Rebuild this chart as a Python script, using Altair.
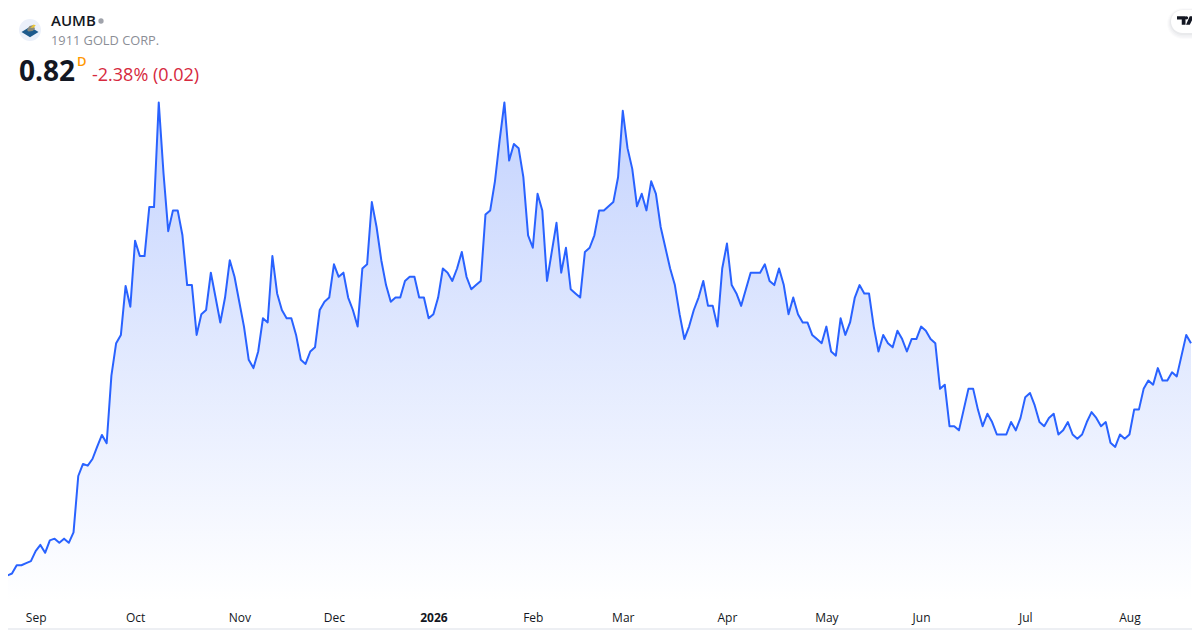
import altair as alt
import pandas as pd

prices = [
0.255,0.26,0.265,0.285,0.285,0.29,0.295,0.319,0.334,0.315,0.345,0.349,0.339,0.349,0.339,0.364,0.50,0.529,0.525,0.541,0.571,0.599,0.579,
0.742,0.82,0.84,0.958,0.908,1.067,1.03,1.03,1.148,1.148,1.40,1.23,1.09,1.14,1.14,1.08,0.96,0.96,0.84,0.89,0.90,0.99,0.93,0.87,0.93,1.02,0.98,0.92,0.86,0.78,0.76,0.80,0.88,0.87,1.03,0.94,0.90,0.88,0.88,0.84,0.78,
0.77,0.80,0.81,0.90,0.92,0.93,1.01,0.98,0.99,0.93,0.90,0.86,1.00,1.01,1.16,1.10,1.02,0.96,0.92,0.93,0.93,0.97,0.98,0.98,0.93,0.93,0.88,0.89,0.93,1.00,0.99,0.97,1.00,1.04,0.98,0.95,0.96,0.97,1.13,1.14,1.21,1.31,1.40,1.26,1.30,1.29,1.22,1.08,1.05,1.18,1.14,0.97,1.04,1.11,0.99,1.05,0.95,0.94,0.93,1.04,1.05,1.08,1.14,
1.14,1.15,1.16,1.22,1.38,1.29,1.24,1.15,1.18,1.14,1.21,1.18,1.10,1.05,1.00,0.96,0.89,0.83,0.86,0.90,0.93,0.97,0.91,0.91,0.86,1.00,1.06,0.96,0.94,0.91,0.95,0.99,0.99,0.99,1.01,0.97,0.96,1.00,0.96,0.89,0.93,0.89,0.87,0.87,0.84,0.83,0.82,0.86,0.80,0.79,0.88,0.84,0.87,0.93,0.96,0.94,0.94,0.86,0.80,0.84,0.82,0.81,0.85,
0.83,0.80,0.83,0.83,0.86,0.85,0.83,0.82,0.71,0.72,0.62,0.62,0.61,0.66,0.71,0.71,0.66,0.62,0.65,0.63,0.60,0.60,0.60,0.63,0.61,0.64,0.69,0.70,0.67,0.63,0.62,0.64,0.65,0.60,0.61,0.63,0.60,0.59,0.60,0.63,0.654,0.64,0.62,0.63,0.58,0.57,0.60,0.59,0.60,0.66,0.66,0.71,0.73,0.72,0.76,0.73,0.73,0.75,0.74,0.79,0.84,0.82,
]
tick_index = [7, 28, 50, 70, 91, 112, 131, 153, 174, 194, 216, 238]
tick_labels = ["Sep", "Oct", "Nov", "Dec", "2026", "Feb", "Mar", "Apr", "May", "Jun", "Jul", "Aug"]

df = pd.DataFrame({"i": list(range(len(prices))), "p": prices, "base": [0.20] * len(prices)})

FONT = "Open Sans"
xs = alt.Scale(domain=[-2.5 / 4.735, 1197.5 / 4.735], nice=False, zero=False)
ys = alt.Scale(domain=[0.82 - 286.8 / 415, 0.82 + 343.2 / 415], nice=False, zero=False)

label_expr = "{" + ",".join(f"'{i}':'{l}'" for i, l in zip(tick_index, tick_labels)) + "}[''+datum.value]"
xax = alt.Axis(values=tick_index, labelExpr=label_expr, title=None, domain=False, ticks=False, grid=False,
               labelFont=FONT, labelFontSize=12, labelColor="#131722", labelPadding=0, labelOverlap=False,
               labelFlush=False, labelFontWeight=alt.expr("datum.value == 91 ? 700 : 400"),
               orient="bottom", offset=-18)

base = alt.Chart(df)
area = base.mark_area(
    line=False,
    color=alt.Gradient(gradient="linear", x1=0, x2=0, y1=0, y2=1,
                       stops=[alt.GradientStop(offset=0, color="#c4d3fe"),
                              alt.GradientStop(offset=1, color="#ffffff")]),
).encode(x=alt.X("i:Q", scale=xs, axis=xax), y=alt.Y("p:Q", scale=ys, axis=None), y2="base:Q")
line = base.mark_line(color="#2962ff", strokeWidth=2, strokeJoin="round").encode(
    x=alt.X("i:Q", scale=xs), y=alt.Y("p:Q", scale=ys))

one = pd.DataFrame({"a": [0]})
def txt(s, x, y, size, color, weight=400):
    return alt.Chart(one).mark_text(text=s, align="left", baseline="alphabetic", font=FONT, fontSize=size,
                                    color=color, fontWeight=weight).encode(x=alt.value(x), y=alt.value(y))

def pt(shape, x, y, size, fill):
    return alt.Chart(one).mark_point(shape=shape, filled=True, fill=fill, size=size, opacity=1, strokeWidth=0).encode(
        x=alt.value(x), y=alt.value(y))

frame = alt.Chart(one).mark_rect(fill="transparent", stroke="#e8eaef", strokeWidth=1.5, cornerRadius=6).encode(
    x=alt.value(1), x2=alt.value(1199), y=alt.value(1), y2=alt.value(629))

header = [
    pt("circle", 30, 30, 480, "#ebf0fa"),
    pt("M-1,0 L0,-0.62 L1,0 L0,0.62 Z", 30, 32, 289, "#1d5a8c"),
    pt("M-0.8,0.2 L-0.3,-0.6 L0.5,-0.8 L0.8,0 L0.3,0.4 L-0.5,0.5 Z", 31, 29, 100, "#8a8a7c"),
    pt("M-1,0.4 L0.2,-0.9 L1,-0.6 L0.2,0.3 Z", 33, 27, 30, "#e8c43a"),
    txt("AUMB", 51, 26, 15, "#131722", 600),
    pt("circle", 101, 21, 28, "#a0a3ab"),
    txt("1911 GOLD CORP.", 51, 45, 12.8, "#8b8e96"),
    txt("0.82", 19, 81, 28, "#131722", 700),
    txt("D", 77, 66, 13, "#ff9800", 600),
    txt("-2.38% (0.02)", 92, 81, 18, "#d6293e"),
]

def pill_rect(grow, dy, fill, opacity):
    return alt.Chart(one).mark_rect(fill=fill, cornerRadius=12 + grow, opacity=opacity).encode(
        x=alt.value(1171 - grow), x2=alt.value(1215), y=alt.value(10 - grow + dy), y2=alt.value(33 + grow + dy))

pill = [pill_rect(4, 2, "#131722", 0.015), pill_rect(3, 2, "#131722", 0.02),
        pill_rect(2, 1.5, "#131722", 0.025), pill_rect(1, 1, "#131722", 0.03),
        pill_rect(0, 0, "#ffffff", 1)]
tv = pt("M-1,-0.5 L0,-0.5 L0,0.5 L-0.44,0.5 L-0.44,-0.12 L-1,-0.12 Z "
        "M0.12,-0.5 A0.16,0.16 0 1 1 0.12,-0.12 A0.16,0.16 0 1 1 0.12,-0.5 Z "
        "M0.5,-0.5 L1,-0.5 L0.5,0.5 L0.06,0.5 Z",
        1185.5, 20.5, 289, "#131722")

chart = alt.layer(area, line, frame, *header, *pill, tv).properties(
    width=1200, height=630,
    padding={"left": -8, "top": -8, "right": -8, "bottom": 0},
    autosize=alt.AutoSizeParams(type="none"),
    background="#ffffff",
).configure_view(stroke=None)

chart.save("out.html", embed_options={"renderer": "svg", "actions": False})
